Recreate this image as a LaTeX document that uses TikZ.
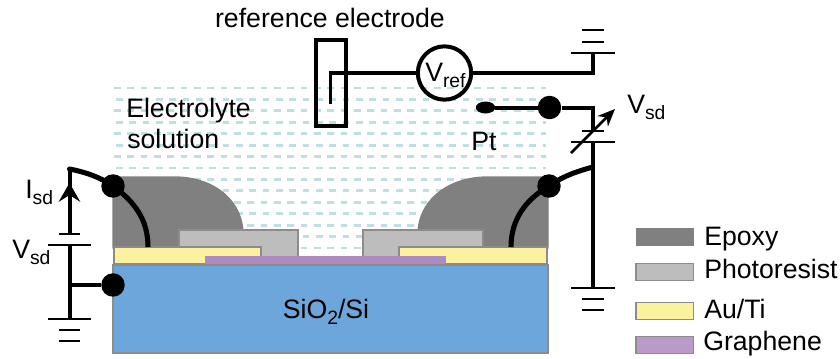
\documentclass[tikz,border=0pt]{standalone}
\usepackage{fontspec}
\setmainfont{Liberation Sans}
\usetikzlibrary{arrows.meta,shapes.geometric}
\definecolor{sio}{HTML}{6CA6DA}
\definecolor{edgeg}{HTML}{8C8C8C}
\definecolor{epoxy}{HTML}{7F807F}
\definecolor{resist}{HTML}{BDBDBD}
\definecolor{auti}{HTML}{FAF29E}
\definecolor{graph}{HTML}{AD8ABF}
\definecolor{graphleg}{HTML}{B99AC8}
\definecolor{liquid}{HTML}{C0DFE3}
\tikzset{
  layer/.style={draw=edgeg,line width=1pt},
  wire/.style={draw=black,line width=3pt},
  contact/.style={draw=black,line width=3.8pt},
  thinwire/.style={draw=black,line width=2.5pt},
  plate/.style={draw=black,line width=1.6pt},
  dot/.style={circle,fill=black,inner sep=0pt,minimum size=17.6pt},
  lab/.style={inner sep=0pt,font=\fontsize{20}{24}\selectfont,text=black},
  liquidrow/.style={draw=liquid,line width=2.2pt,dash pattern=on 5pt off 5pt},
}
\newcommand{\sbs}[1]{\raisebox{-5pt}{\fontsize{14.5}{16}\selectfont #1}}
\begin{document}
\begin{tikzpicture}[x=0.75pt,y=-0.75pt]
\useasboundingbox (0,0) rectangle (840,358);
% electrolyte
\foreach \i in {0,...,14}{
  \pgfmathsetmacro{\yy}{88+11.43*\i}
  \pgfmathsetmacro{\xs}{mod(\i,2)==0 ? 114 : 116}
  \draw[liquidrow] (\xs,\yy) -- (546,\yy);
}
% stack
\path[layer,fill=epoxy,draw=epoxy] (113,248) -- (113,177) -- (175,177) .. controls (208,177) and (240,195) .. (243,231) -- (243,248) -- cycle;
\path[layer,fill=epoxy,draw=epoxy] (548,248) -- (548,177) -- (487,177) .. controls (454,177) and (421,195) .. (418,231) -- (418,248) -- cycle;
\path[layer,fill=resist] (179,257) rectangle (298,230);
\path[layer,fill=resist] (363,257) rectangle (483,230);
\path[layer,fill=sio] (113,265) rectangle (548,353);
\path[layer,fill=auti] (114,264) rectangle (261,247);
\path[layer,fill=auti] (399,264) rectangle (547,247);
\path[fill=graph] (205,256) rectangle (446,264);
\node[lab,anchor=base] (sub) at (326,318) {SiO\sbs{2}/Si};
% reference electrode
\node[lab,anchor=base] (reflab) at (330,27) {reference electrode};
\node[draw=black,line width=3pt,minimum width=22.5pt,minimum height=64pt,inner sep=0pt] (refel) at (331,83) {};
\coordinate (reftip) at (330.5,104);
\coordinate (refcorner) at (330.5,73);
\node[circle,draw=black,line width=3pt,fill=none,minimum size=40pt,inner sep=0pt] (vref) at (444.5,73) {};
\node[lab,anchor=base west] (vreflab) at (425,81) {V\sbs{ref}};
\coordinate (gndAjoin) at (593,73);
\coordinate (gndA) at (593,53);
\draw[thinwire] (reftip) -- (refcorner) -- (vref.west);
\draw[wire] (vref.east) -- (gndAjoin) -- (gndA);
\draw[plate] (571,53) -- (615,53);
\draw[plate] (582,42) -- (604,42);
\draw[plate] (582,30) -- (604,30);
% Pt
\node[ellipse,fill=black,minimum width=14.5pt,minimum height=9pt,inner sep=0pt] (pt) at (485.5,107.5) {};
\node[dot] (ptdot) at (549.5,107.5) {};
\coordinate (ptcorner) at (593,107.5);
\coordinate (rbattop) at (593,131);
\coordinate (rbatbot) at (593,142);
\coordinate (rgnd) at (593,288);
\coordinate (rjoin) at (593,167);
\draw[wire] (pt) -- (ptdot) -- (ptcorner) -- (rbattop);
\draw[wire] (rbatbot) -- (rgnd);
\draw[plate] (582,131) -- (604,131);
\draw[plate] (571,142) -- (615,142);
\draw[plate] (571,288) -- (615,288);
\draw[plate] (582,299) -- (604,299);
\draw[plate] (582,310) -- (604,310);
\coordinate (varS) at (571,153);
\coordinate (varE) at (615,109);
\draw[draw=black,line width=2pt,-{Stealth[length=13pt,width=11pt]}] (varS) -- (varE);
\node[lab,anchor=base west] (vsdr) at (627,113) {V\sbs{sd}};
\node[lab,anchor=base west] (ptlab) at (471,150) {Pt};
% right contact
\node[dot] (rdot) at (549,186) {};
\coordinate (rpad) at (511,247);
\draw[contact] (rjoin) .. controls (578,171) and (563,176) .. (rdot.center);
\draw[contact] (rdot.center) .. controls (525,200) and (511,220) .. (rpad);
% left circuit
\node[dot] (ldot) at (113,186) {};
\node[dot] (bdot) at (113,285) {};
\coordinate (lpad) at (148,247);
\coordinate (ltop) at (69.5,169);
\coordinate (lbattop) at (69.5,234);
\coordinate (lbatbot) at (69.5,245);
\coordinate (lgnd) at (69.5,319);
\coordinate (ljoin) at (69.5,285);
\draw[contact] (ldot.center) .. controls (135,202) and (148,220) .. (lpad);
\draw[contact,line cap=round] (ltop) .. controls (85,172) and (100,177) .. (ldot.center);
\draw[draw=black,-{Stealth[length=14pt,width=16pt,inset=5pt]},line width=3pt] (lbattop) -- (69.5,183);
\draw[wire] (lbattop) -- (ltop);
\draw[wire] (lbatbot) -- (lgnd);
\draw[wire] (ljoin) -- (bdot);
\draw[plate] (59,234) -- (80,234);
\draw[plate] (48,245) -- (91,245);
\draw[plate] (48,319) -- (91,319);
\draw[plate] (59,330) -- (80,330);
\draw[plate] (59,341) -- (80,341);
\node[lab,anchor=base west] (isd) at (25,198) {I\sbs{sd}};
\node[lab,anchor=base west] (vsdl) at (12,258) {V\sbs{sd}};
% electrolyte label
\node[lab,anchor=base west] (el1) at (126,117) {Electrolyte};
\node[lab,anchor=base west] (el2) at (127,148) {solution};
% legend
\node[minimum width=43.5pt,minimum height=13.5pt,inner sep=0pt,fill=epoxy] (legE) at (664.5,237) {};
\node[minimum width=43pt,minimum height=12.5pt,inner sep=0pt,layer,fill=resist] (legP) at (664.5,272) {};
\node[minimum width=43pt,minimum height=12.5pt,inner sep=0pt,layer,fill=auti] (legA) at (664.5,311) {};
\node[minimum width=43pt,minimum height=12.5pt,inner sep=0pt,layer,fill=graphleg] (legG) at (664.5,345) {};
\node[lab,anchor=base west] at (704,245) {Epoxy};
\node[lab,anchor=base west] at (704,278) {Photoresist};
\node[lab,anchor=base west] at (704,318) {Au/Ti};
\node[lab,anchor=base west] at (703,350) {Graphene};
\end{tikzpicture}
\end{document}
